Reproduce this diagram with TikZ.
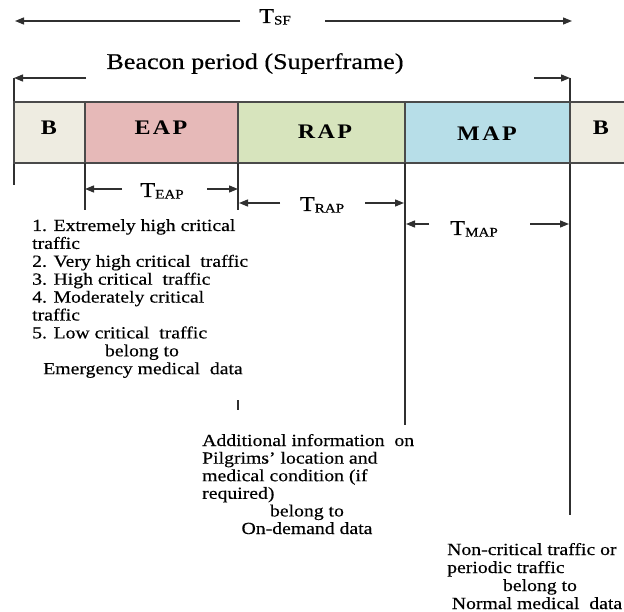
\documentclass[tikz,border=0pt]{standalone}
\usepackage{fontspec}
\setmainfont{Liberation Serif}[FakeStretch=1.16, UprightFeatures={FakeBold=0.35}]
\usetikzlibrary{arrows.meta}
\definecolor{bcol}{HTML}{EEECE1}
\definecolor{eapcol}{HTML}{E6B9B8}
\definecolor{rapcol}{HTML}{D7E4BD}
\definecolor{mapcol}{HTML}{B7DEE8}
\definecolor{bordercol}{HTML}{4A4A4A}
\definecolor{linecol}{HTML}{303030}
\newcommand{\Tlab}[1]{T\raisebox{-1.5pt}{\fontsize{13}{14}\selectfont #1}}
\begin{document}
\begin{tikzpicture}[x=1pt,y=-1pt,
  cell/.style={draw=bordercol, line width=1.3pt, anchor=north west, inner sep=0pt, outer sep=0pt, minimum height=61pt},
  celltext/.style={inner sep=0pt, font=\fontsize{20.7}{22}\selectfont\bfseries},
  dim/.style={-{Triangle[length=9pt,width=7pt]}, line width=1.3pt, draw=linecol},
  vline/.style={line width=1.7pt, draw=linecol},
  tlabel/.style={anchor=base, inner sep=0pt, font=\fontsize{21}{22}\selectfont},
  body/.style={inner sep=0pt, font=\fontsize{17}{18}\selectfont},
]
\clip (0,0) rectangle (624,612);
\fill[white] (0,0) rectangle (624,612);

% T_SF
\node[tlabel] (tsf) at (275,23) {\Tlab{SF}};
\coordinate (tsfL1) at (240,21); \coordinate (tsfL2) at (15,21);
\coordinate (tsfR1) at (325,21); \coordinate (tsfR2) at (572,21);
\draw[dim] (tsfL1) -- (tsfL2);
\draw[dim] (tsfR1) -- (tsfR2);

% Beacon period
\node[anchor=base, inner sep=0pt, font=\fontsize{22.5}{24}\selectfont] (beacon) at (255,69) {Beacon period (Superframe)};
\coordinate (bpL1) at (86,78); \coordinate (bpL2) at (14,78);
\coordinate (bpR1) at (534,78); \coordinate (bpR2) at (570,78);
\coordinate (vA1) at (14,78); \coordinate (vA2) at (14,185);
\coordinate (vE1) at (570,78); \coordinate (vE2) at (570,515);
\draw[vline] (vA1) -- (vA2);
\draw[vline] (vE1) -- (vE2);
\draw[dim] (bpL1) -- (bpL2);
\draw[dim] (bpR1) -- (bpR2);

% frame cells
\node[cell, fill=bcol, minimum width=71pt] (b1) at (14,102) {};
\node[cell, fill=eapcol, minimum width=153pt] (eap) at (85,102) {};
\node[cell, fill=rapcol, minimum width=167pt] (rap) at (238,102) {};
\node[cell, fill=mapcol, minimum width=165pt] (map) at (405,102) {};
\node[cell, fill=bcol, minimum width=80pt] (b2) at (570,102) {};
\node[celltext] (b1t) at (49,127.5) {B};
\node[celltext] (eapt) at (161,127.5) {E\kern2.3pt A\kern2.3pt P};
\node[celltext] (rapt) at (325,132) {R\kern2.5pt A\kern2.5pt P};
\node[celltext] (mapt) at (487,134) {M\kern2.5pt A\kern2.5pt P};
\node[celltext] (b2t) at (601,127.5) {B};

% vertical lines below the frame
\coordinate (vB1) at (85,163); \coordinate (vB2) at (85,210);
\coordinate (vC1) at (238,163); \coordinate (vC2) at (238,210);
\coordinate (vC3) at (238,400); \coordinate (vC4) at (238,410);
\coordinate (vD1) at (405,163); \coordinate (vD2) at (405,425);
\draw[vline] (vB1) -- (vB2);
\draw[vline] (vC1) -- (vC2);
\draw[vline] (vC3) -- (vC4);
\draw[vline] (vD1) -- (vD2);

% T_EAP
\node[tlabel] (teap) at (162,197) {\Tlab{EAP}};
\coordinate (teL1) at (122,189); \coordinate (teL2) at (85,189);
\coordinate (teR1) at (207,189); \coordinate (teR2) at (238,189);
\draw[dim] (teL1) -- (teL2);
\draw[dim] (teR1) -- (teR2);

% T_RAP
\node[tlabel] (trap) at (322,211) {\Tlab{RAP}};
\coordinate (trL1) at (280,203); \coordinate (trL2) at (239,203);
\coordinate (trR1) at (365,203); \coordinate (trR2) at (404,203);
\draw[dim] (trL1) -- (trL2);
\draw[dim] (trR1) -- (trR2);

% T_MAP
\node[tlabel] (tmap) at (474,235) {\Tlab{MAP}};
\coordinate (tmL1) at (429,224); \coordinate (tmL2) at (406,224);
\coordinate (tmR1) at (530,224); \coordinate (tmR2) at (569,224);
\draw[dim] (tmL1) -- (tmL2);
\draw[dim] (tmR1) -- (tmR2);

% block 1
\foreach \t [count=\i] in {1. Extremely high critical, traffic, 2. Very high critical\ \ traffic, 3. High critical\ \ traffic, 4. Moderately critical, traffic, 5. Low critical\ \ traffic}
  \node[body, anchor=base west] (ea\i) at (32,{231+17.9*(\i-1)}) {\t};
\node[body, anchor=base] (eb1) at (142,356.3) {belong to};
\node[body, anchor=base] (eb2) at (143,374.2) {Emergency medical\ \ data};

% block 2
\foreach \t [count=\i] in {Additional information\ \ on, Pilgrims’ location and, medical condition (if, required)}
  \node[body, anchor=base west] (ra\i) at (202,{446+17.6*(\i-1)}) {\t};
\node[body, anchor=base] (rb1) at (307,516.4) {belong to};
\node[body, anchor=base] (rb2) at (307,534) {On-demand data};

% block 3
\node[body, anchor=base west] (ma1) at (447,555) {Non-critical traffic or};
\node[body, anchor=base west] (ma2) at (447,573) {periodic traffic};
\node[body, anchor=base] (mb1) at (540,591) {belong to};
\node[body, anchor=base] (mb2) at (537,609) {Normal medical\ \ data};
\end{tikzpicture}
\end{document}
